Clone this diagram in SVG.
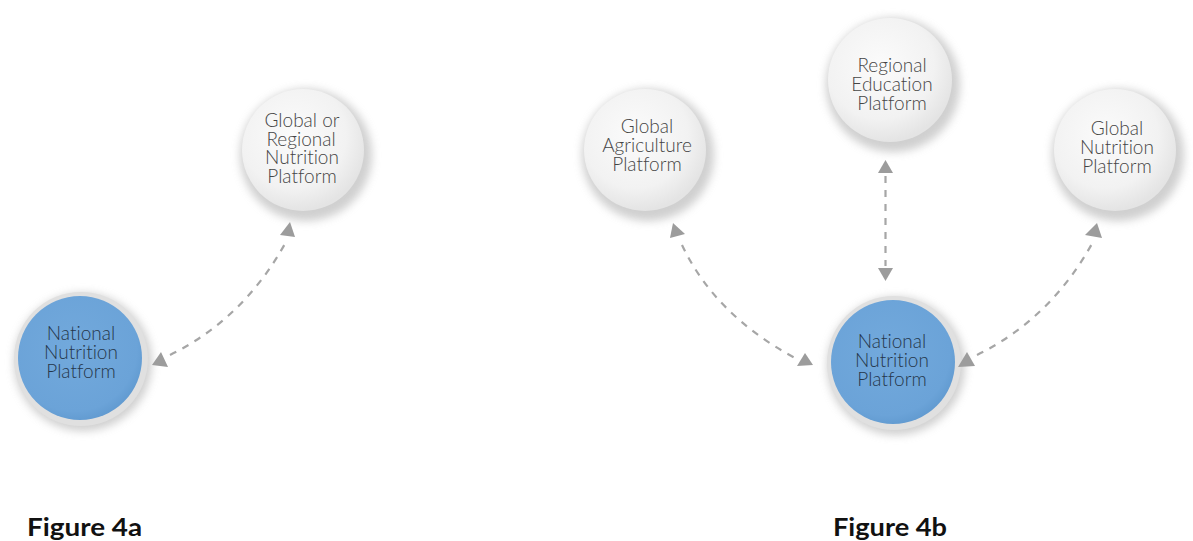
<svg xmlns="http://www.w3.org/2000/svg" width="1193" height="541" viewBox="0 0 1193 541">
<defs>
<radialGradient id="gw" cx="0.42" cy="0.38" r="0.62">
<stop offset="0" stop-color="#fbfbfb"/>
<stop offset="0.7" stop-color="#f2f2f2"/>
<stop offset="1" stop-color="#e4e4e4"/>
</radialGradient>
<radialGradient id="gb" cx="0.45" cy="0.42" r="0.6">
<stop offset="0" stop-color="#72a9dc"/>
<stop offset="0.85" stop-color="#6ba3d8"/>
<stop offset="1" stop-color="#619ad0"/>
</radialGradient>
<filter id="blur" x="-30%" y="-30%" width="160%" height="160%">
<feGaussianBlur stdDeviation="4"/>
</filter>
</defs>
<style>
.sh{fill:#bcbcbc;opacity:0.7;filter:url(#blur)}
.ring{fill:#e0e0e0}
.wn{fill:url(#gw)}
.bn{fill:url(#gb)}
.t{font-family:Lato,"Open Sans","Liberation Sans",sans-serif;font-weight:300;font-size:19px;text-anchor:middle;font-variant-ligatures:none}
.tw{fill:#454545}
.tb{fill:#25364a}
.fig{font-family:Lato,"Liberation Sans",sans-serif;font-weight:700;font-size:24px;fill:#111}
.c{fill:none;stroke:#a6a6a6;stroke-width:2.2;stroke-dasharray:7 7}
.ah{fill:#9c9c9c}
</style>
<rect width="1193" height="541" fill="#ffffff"/>

<g id="node-global-regional">
<circle class="sh" cx="306" cy="155" r="66"/>
<circle class="wn" cx="303" cy="150" r="61"/>
<text class="t tw" x="302" y="127"><tspan x="302">Global or</tspan><tspan x="301" dy="18.5">Regional</tspan><tspan x="302" dy="18.5">Nutrition</tspan><tspan x="302" dy="18.5">Platform</tspan></text>
</g>

<g id="node-national-4a">
<circle class="sh" cx="83" cy="362" r="69"/>
<circle class="ring" cx="81" cy="359" r="67"/>
<circle class="bn" cx="80" cy="358" r="62"/>
<text class="t tb" x="81" y="340"><tspan x="81">National</tspan><tspan x="81" dy="19">Nutrition</tspan><tspan x="81" dy="19">Platform</tspan></text>
</g>

<g id="node-agriculture">
<circle class="sh" cx="648" cy="155" r="66"/>
<circle class="wn" cx="645" cy="150" r="61"/>
<text class="t tw" x="647" y="133"><tspan x="647">Global</tspan><tspan x="647" dy="19">Agriculture</tspan><tspan x="647" dy="19">Platform</tspan></text>
</g>

<g id="node-regional-education">
<circle class="sh" cx="893" cy="85" r="67"/>
<circle class="wn" cx="890" cy="80" r="62"/>
<text class="t tw" x="892" y="72"><tspan x="892">Regional</tspan><tspan x="892" dy="19">Education</tspan><tspan x="892" dy="19">Platform</tspan></text>
</g>

<g id="node-global-nutrition">
<circle class="sh" cx="1118" cy="155" r="66"/>
<circle class="wn" cx="1115" cy="150" r="61"/>
<text class="t tw" x="1117" y="135"><tspan x="1117">Global</tspan><tspan x="1117" dy="19">Nutrition</tspan><tspan x="1117" dy="19">Platform</tspan></text>
</g>

<g id="node-national-4b">
<circle class="sh" cx="896" cy="366" r="69"/>
<circle class="ring" cx="894" cy="363" r="67"/>
<circle class="bn" cx="893" cy="362" r="62"/>
<text class="t tb" x="892" y="348"><tspan x="892">National</tspan><tspan x="892" dy="19">Nutrition</tspan><tspan x="892" dy="19">Platform</tspan></text>
</g>

<g id="connectors">
<path class="c" d="M170,355 Q245,318 287,240"/>
<polygon class="ah" points="152,365 168,367 161,352"/>
<polygon class="ah" points="280,235 295,237 290,222"/>

<path class="c" d="M682,245 Q715,315 795,358"/>
<polygon class="ah" points="670,238 685,234 673,223"/>
<polygon class="ah" points="797,366 813,365 805,353"/>

<path class="c" d="M885.5,176 L885.5,266"/>
<polygon class="ah" points="885.5,160 878,173 893,173"/>
<polygon class="ah" points="878,268 893,268 885.5,281"/>

<path class="c" d="M977,355 Q1052,318 1094,240"/>
<polygon class="ah" points="958,367 975,366 967,352"/>
<polygon class="ah" points="1085,235 1102,238 1097,223"/>
</g>

<text class="fig" x="27" y="536" textLength="115" lengthAdjust="spacingAndGlyphs">Figure 4a</text>
<text class="fig" x="833" y="536" textLength="114" lengthAdjust="spacingAndGlyphs">Figure 4b</text>
</svg>
